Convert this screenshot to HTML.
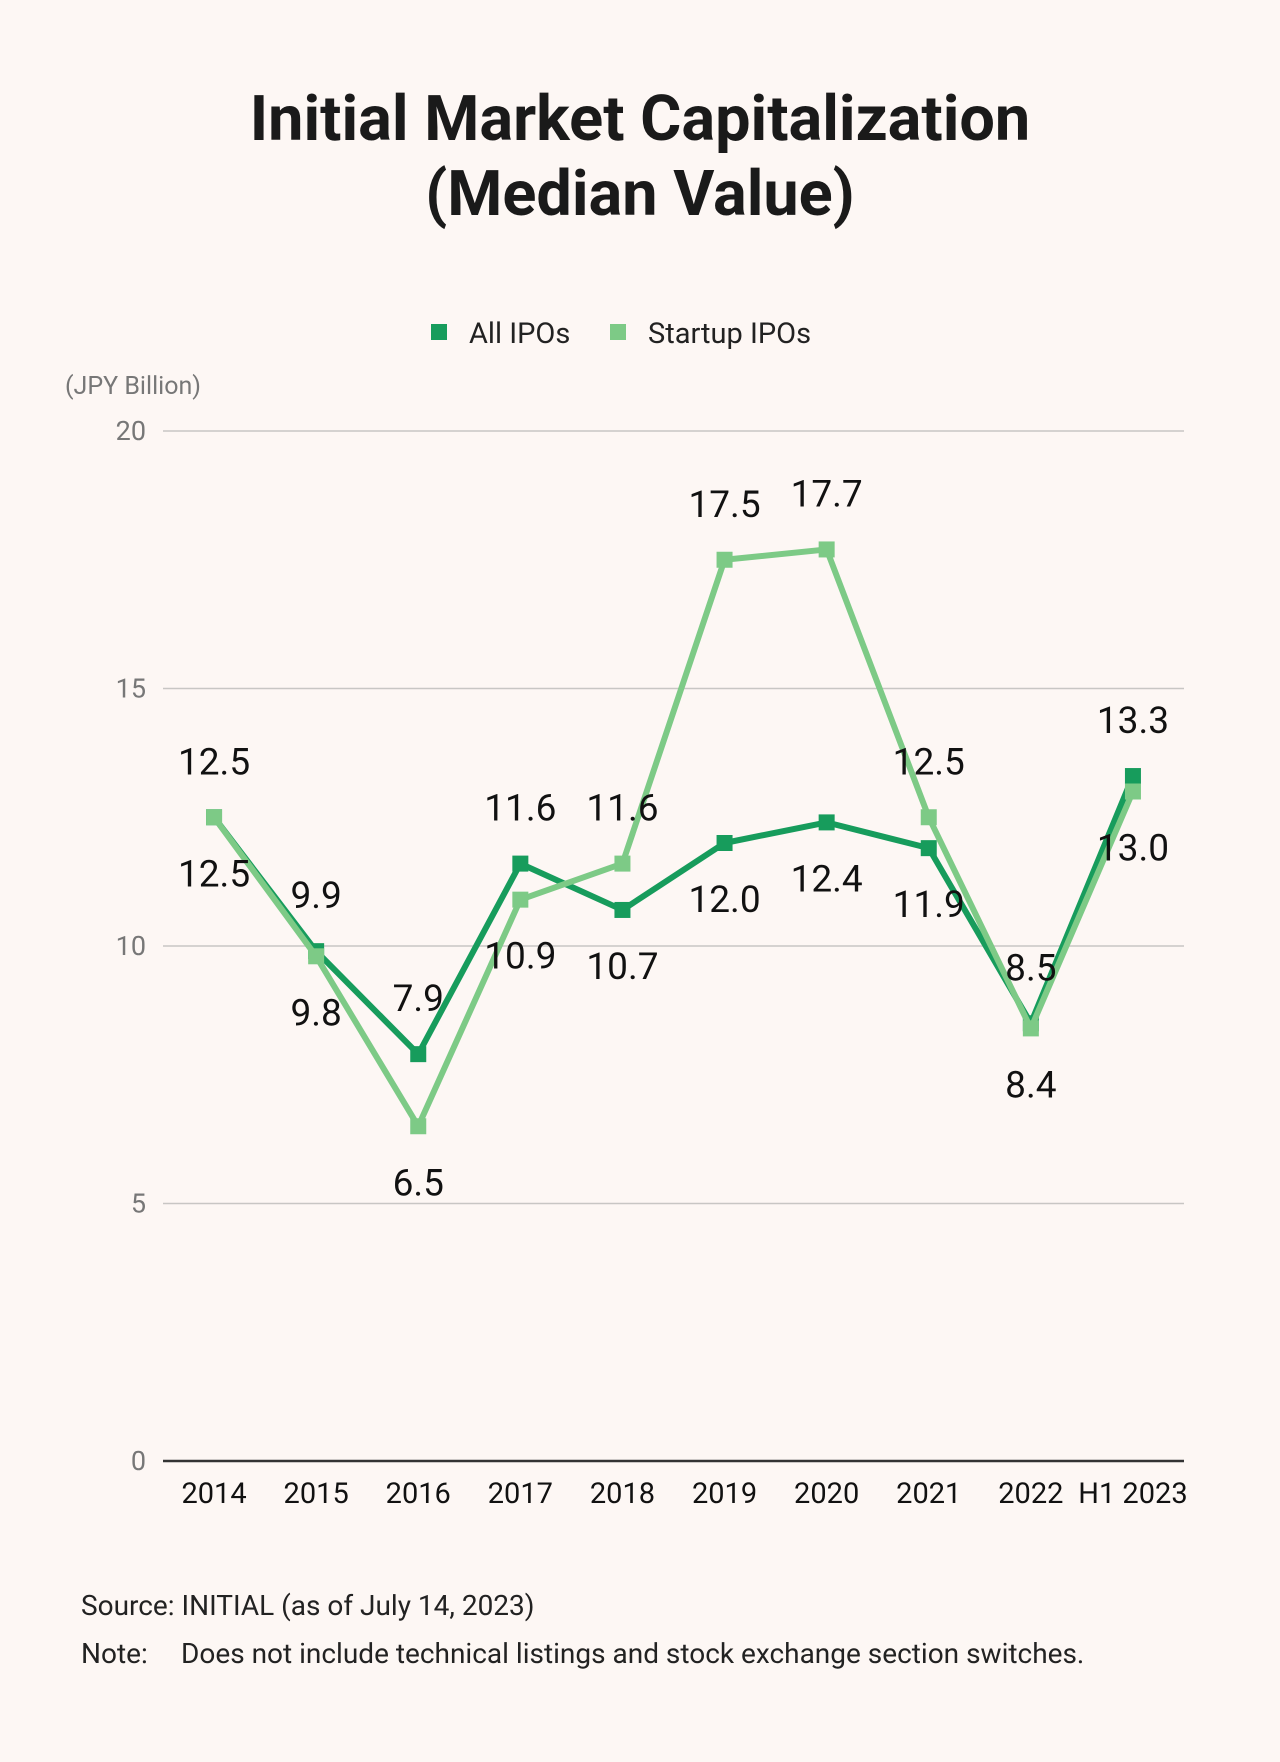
<!DOCTYPE html>
<html><head><meta charset="utf-8"><style>
html,body{margin:0;padding:0;background:#fdf7f4;}
svg{display:block;font-family:"Roboto","Liberation Sans",sans-serif;}
</style></head><body>
<svg width="1280" height="1762" viewBox="0 0 1280 1762" id="chart">
<rect width="1280" height="1762" fill="#fdf7f4"/>
<text x="640" y="140" text-anchor="middle" font-size="63" font-weight="bold" fill="#1a1a1a">Initial Market Capitalization</text>
<text x="640" y="215" text-anchor="middle" font-size="63" font-weight="bold" fill="#1a1a1a">(Median Value)</text>
<g>
<rect x="431" y="324" width="16" height="16" fill="#179c5c"/>
<text x="469" y="343" font-size="29" fill="#222">All IPOs</text>
<rect x="610" y="324" width="16" height="16" fill="#7dca86"/>
<text x="648" y="343" font-size="29" fill="#222">Startup IPOs</text>
</g>
<text x="65" y="394" font-size="25" fill="#777">(JPY Billion)</text>
<g id="grid"></g><g id="lines"></g><g id="labels"></g>
<text x="81" y="1615" font-size="28" fill="#222">Source: INITIAL (as of July 14, 2023)</text>
<text x="81" y="1663" font-size="28" fill="#222">Note:</text>
<text x="181" y="1663" font-size="28" fill="#222">Does not include technical listings and stock exchange section switches.</text>
</svg>
<script>
const categories=["2014","2015","2016","2017","2018","2019","2020","2021","2022","H1 2023"];
const allIPOs=[12.5,9.9,7.9,11.6,10.7,12.0,12.4,11.9,8.5,13.3];
const startupIPOs=[12.5,9.8,6.5,10.9,11.6,17.5,17.7,12.5,8.4,13.0];
const allLabelDir=[1,-1,-1,-1,1,1,1,1,-1,-1];
const startupLabelDir=[-1,1,1,1,-1,-1,-1,-1,1,1];
const yTicks=[0,5,10,15,20];
const NS="http://www.w3.org/2000/svg";
const L=163,R=1184,T=431,B=1461;
const x=i=>L+(R-L)/categories.length*(i+0.5);
const y=v=>B-(B-T)*v/20;
function mk(tag,attrs,parent,txt){const e=document.createElementNS(NS,tag);for(const k in attrs)e.setAttribute(k,attrs[k]);if(txt!==undefined)e.textContent=txt;document.getElementById(parent).appendChild(e);return e;}
yTicks.forEach(t=>{
 const g=mk('line',{x1:L,x2:R,y1:y(t),y2:y(t),stroke:t===0?'#333':'#c8c6c4','stroke-width':t===0?2.5:1.5},'grid');
 
 
 const tl=mk('text',{x:146,y:y(t)+9,'text-anchor':'end','font-size':27,fill:'#777'},'grid',String(t));
 
 
});
categories.forEach((c,i)=>{
 const e=mk('text',{x:x(i),y:1503,'text-anchor':'middle','font-size':29,fill:'#111'},'grid',c);
 
 
});
function series(vals,dirs,color,name){
 const pl=mk('polyline',{points:vals.map((v,i)=>x(i)+','+y(v)).join(' '),fill:'none',stroke:color,'stroke-width':6,'stroke-linejoin':'round'},'lines');
 
 
 vals.forEach((v,i)=>{
  const m=mk('rect',{x:x(i)-8,y:y(v)-8,width:16,height:16,fill:color},'lines');
  
  
  const t=mk('text',{x:x(i),y:y(v)+dirs[i]*56+13,'text-anchor':'middle','font-size':37,fill:'#111'},'labels',v.toFixed(1));
  
  
 });
}
series(allIPOs,allLabelDir,'#179c5c','all-ipos');
series(startupIPOs,startupLabelDir,'#7dca86','startup-ipos');
</script>
</body></html>
